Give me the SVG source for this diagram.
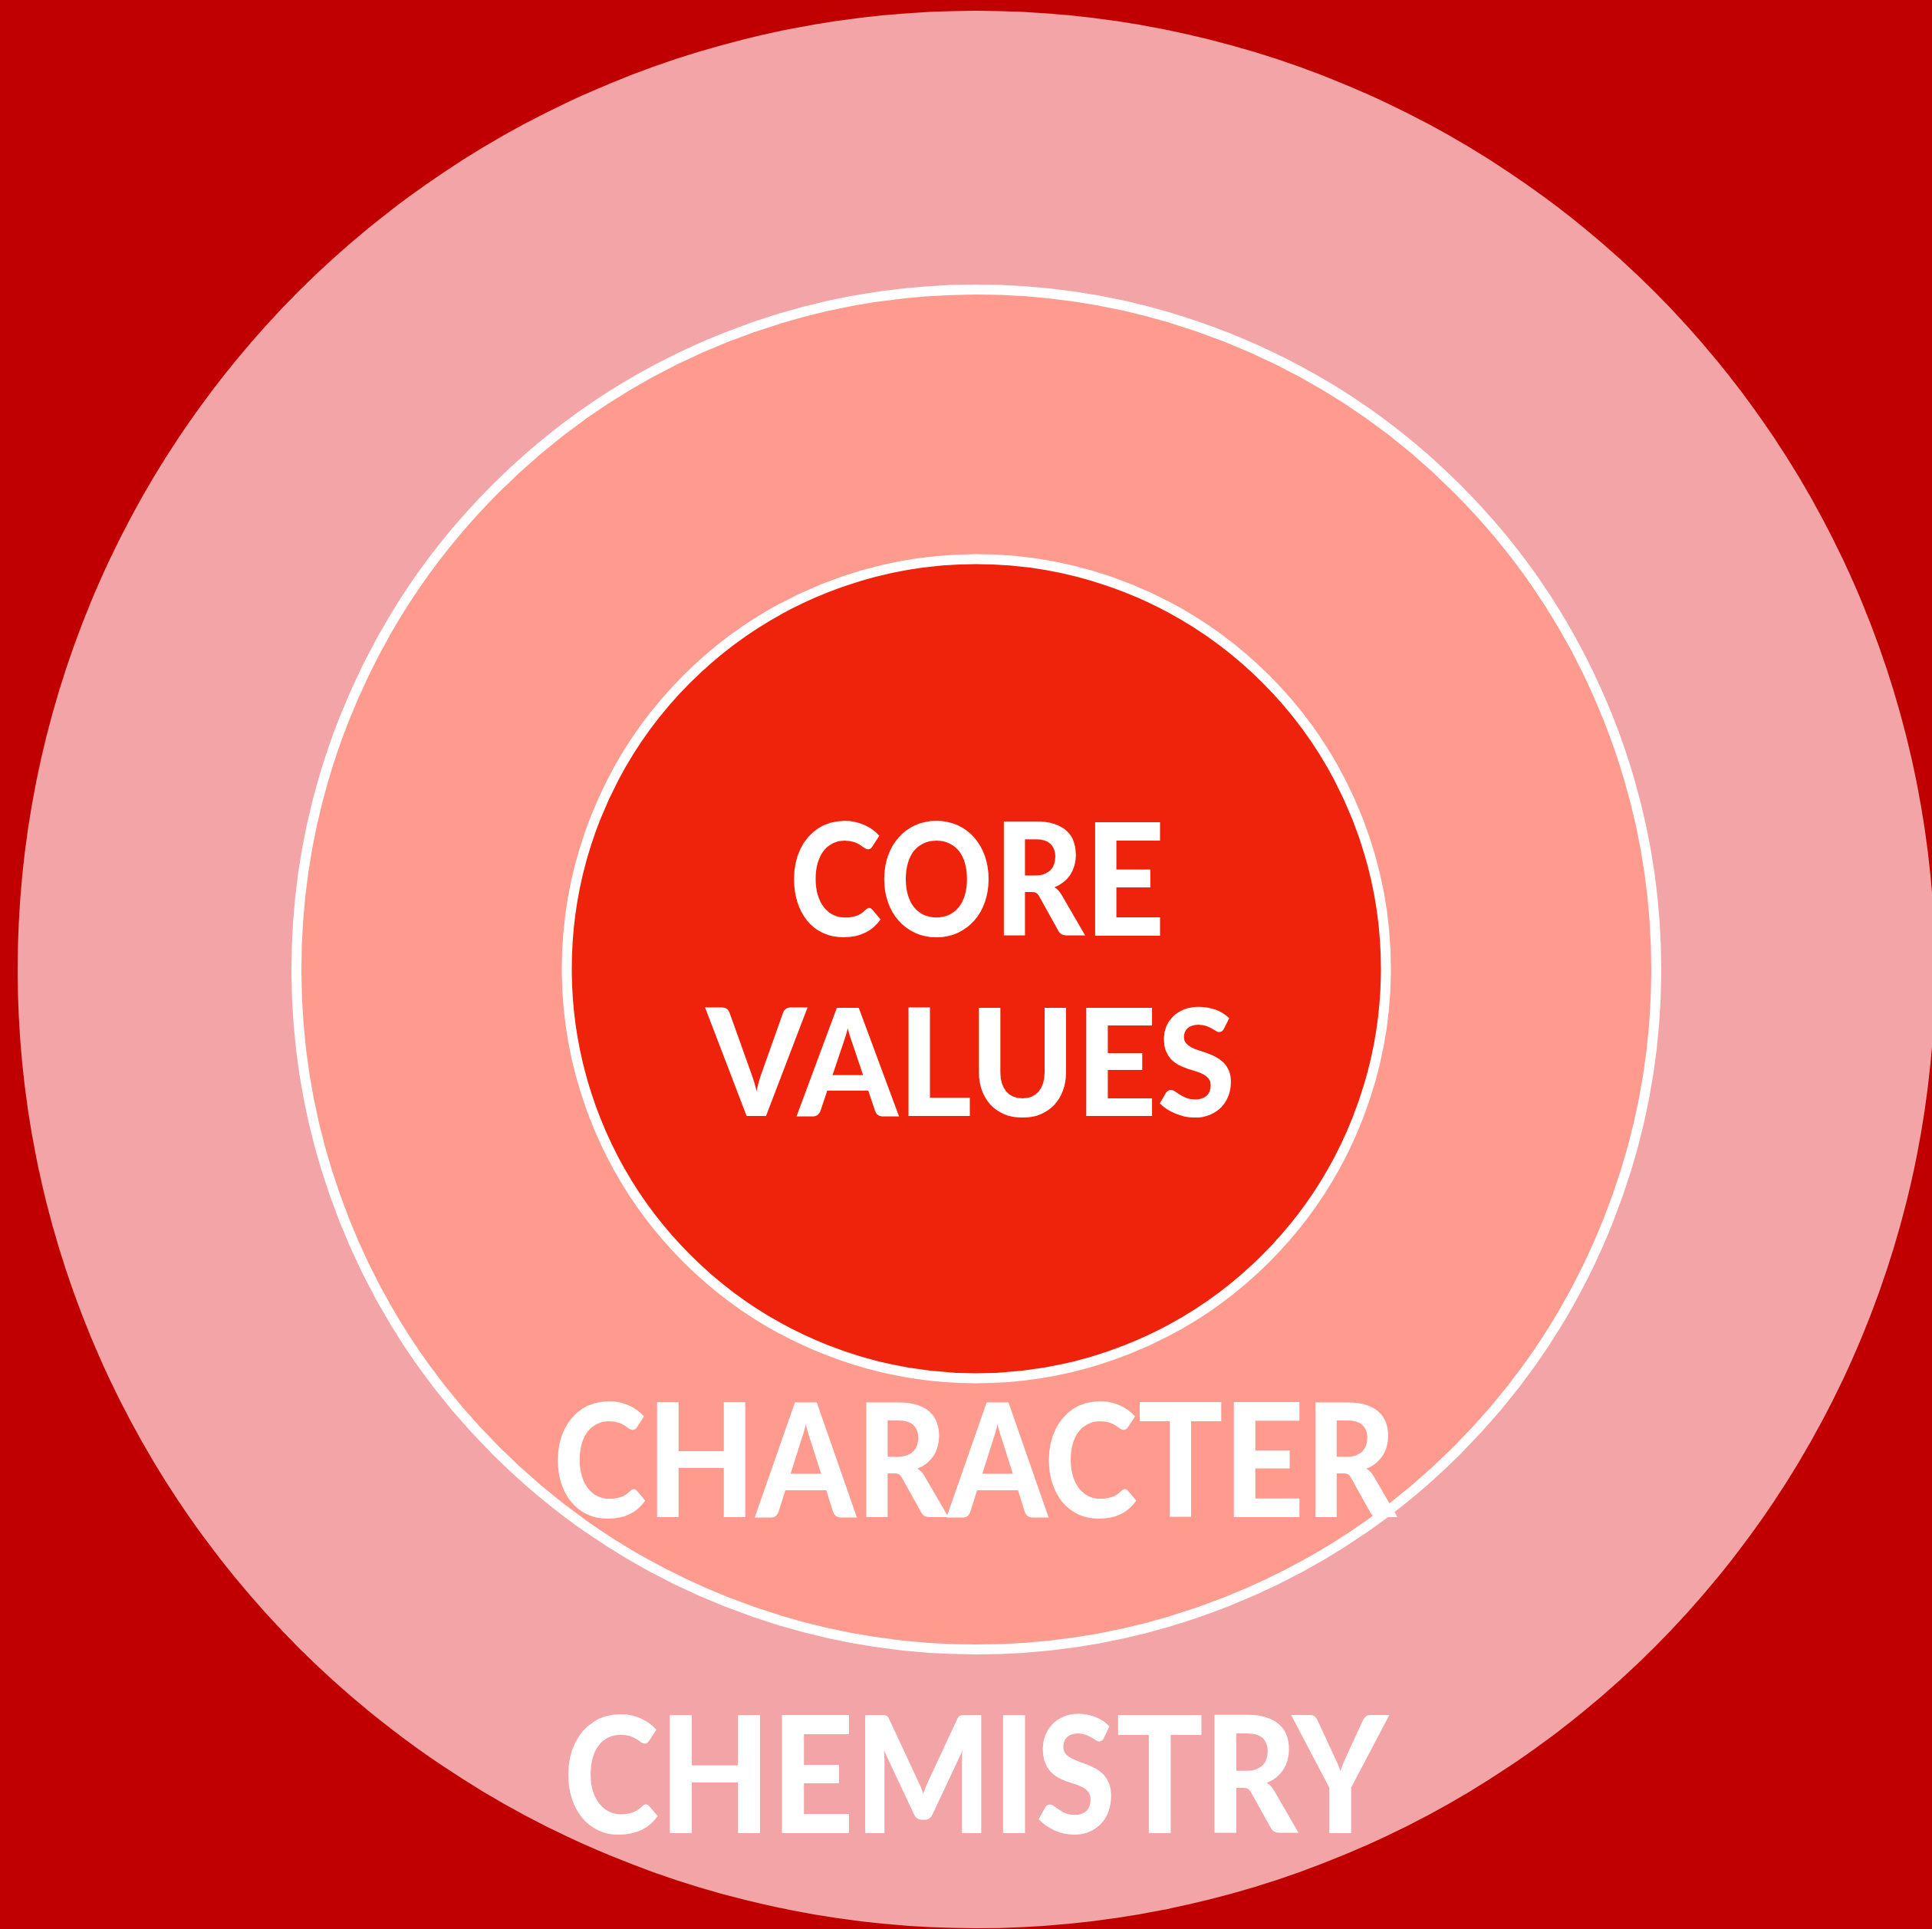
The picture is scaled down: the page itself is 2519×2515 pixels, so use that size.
<svg xmlns="http://www.w3.org/2000/svg" width="2519" height="2515" viewBox="0 0 2519 2515">
  <style>
    .lbl { font-family: Lato, "Open Sans", "DejaVu Sans", sans-serif; font-weight: 900; fill: #FFFFFF; text-anchor: middle; }
    .ring { stroke: #FFFFFF; stroke-width: 13; }
  </style>
  <rect x="0" y="0" width="2519" height="2515" fill="#C00000"/>
  <g id="chemistry">
    <circle cx="1273" cy="1264" r="1250" fill="#F2A4A7"/>
  </g>
  <g id="character">
    <circle class="ring" cx="1273" cy="1264" r="886.5" fill="#FF9A8F"/>
  </g>
  <g id="core-values">
    <circle class="ring" cx="1273" cy="1263" r="534" fill="#EF230C"/>
  </g>
  <g id="labels">
    <text class="lbl" x="1274" y="1220" font-size="205" textLength="490" lengthAdjust="spacingAndGlyphs">CORE</text>
    <text class="lbl" x="1266" y="1455" font-size="195" textLength="690" lengthAdjust="spacingAndGlyphs">VALUES</text>
    <text class="lbl" x="1271" y="1978" font-size="206" textLength="1100" lengthAdjust="spacingAndGlyphs">CHARACTER</text>
    <text class="lbl" x="1272" y="2390" font-size="212" textLength="1075" lengthAdjust="spacingAndGlyphs">CHEMISTRY</text>
  </g>
  <g id="connectors"/>
</svg>
